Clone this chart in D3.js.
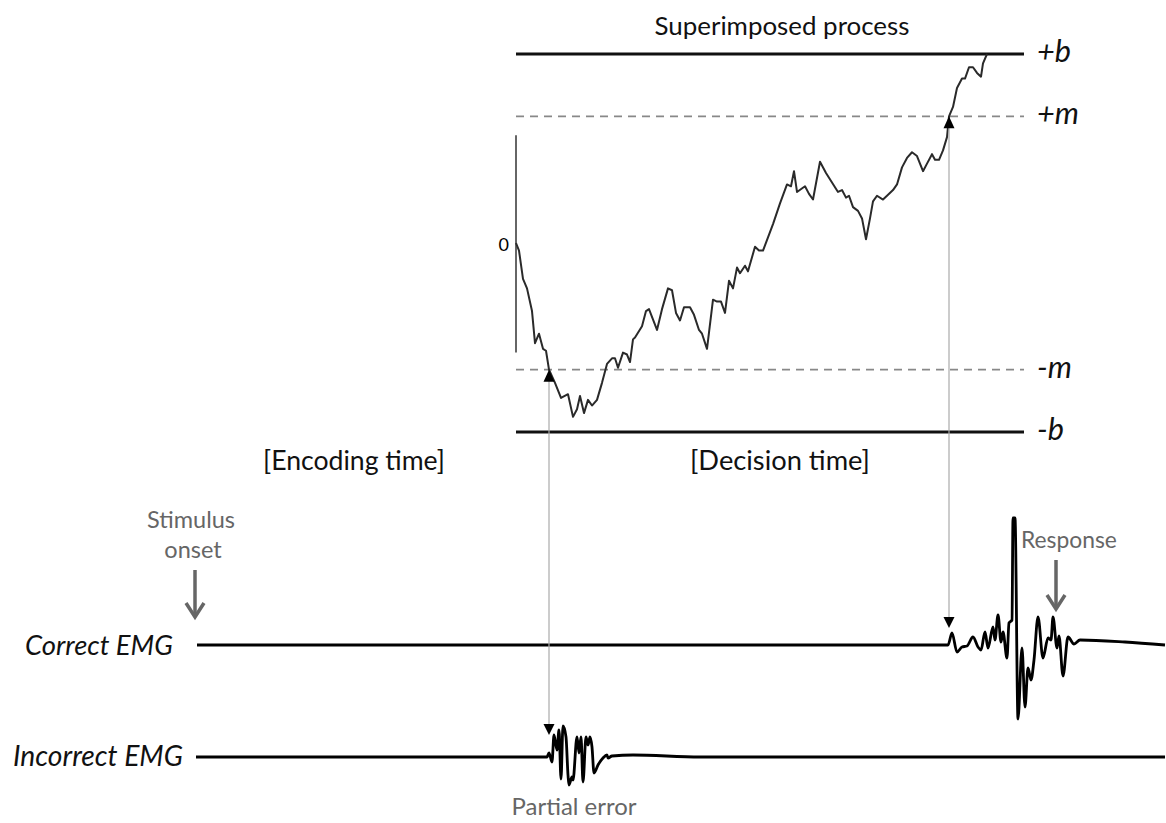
<!DOCTYPE html>
<html><head><meta charset="utf-8">
<script src="https://cdn.jsdelivr.net/npm/d3@7"></script>
<style>body{margin:0;background:#fff}svg{display:block}</style>
</head><body><svg id="c" width="1166" height="823"></svg>
<script>
// ---------- DATA ----------
// Superimposed (diffusion) process: decision time (ms from end of encoding) and evidence (units of b)
const walkTime = [0,3,7,11,16,19,23,27,30,33,39,45,52,57,61,64,68,72,76,81,86,91,96,99,102,107,111,114,117,119,126,130,133,141,146,152,156,160,164,168,174,178,183,186,191,197,201,205,209,213,217,221,224,229,232,239,243,247,252,257,264,271,275,278,281,289,293,297,304,310,316,322,326,330,333,337,342,346,350,354,357,361,367,371,377,381,386,391,396,401,407,411,416,419,423,427,431,433,437,441,446,449,453,457,461,465,467,471];
const walkEvidence = [0,-0.04,-0.19,-0.24,-0.36,-0.53,-0.48,-0.56,-0.57,-0.67,-0.74,-0.82,-0.80,-0.92,-0.88,-0.81,-0.90,-0.83,-0.86,-0.83,-0.74,-0.64,-0.61,-0.61,-0.66,-0.58,-0.59,-0.63,-0.51,-0.50,-0.44,-0.36,-0.35,-0.46,-0.35,-0.24,-0.25,-0.37,-0.41,-0.34,-0.34,-0.38,-0.46,-0.48,-0.56,-0.30,-0.31,-0.31,-0.37,-0.20,-0.24,-0.13,-0.16,-0.12,-0.15,-0.02,-0.04,-0.04,0.03,0.10,0.21,0.31,0.30,0.38,0.27,0.30,0.26,0.23,0.43,0.37,0.32,0.27,0.28,0.24,0.25,0.19,0.17,0.13,0.02,0.13,0.22,0.25,0.23,0.25,0.28,0.31,0.40,0.45,0.48,0.46,0.38,0.42,0.47,0.44,0.44,0.49,0.56,0.67,0.72,0.82,0.87,0.87,0.93,0.93,0.90,0.88,0.95,1.0];
const boundaryLevels = [1, -1];
const boundaryLabels = ["+b", "-b"];
const markerLevels = [0.67, -0.67];
const markerLabels = ["+m", "-m"];
const decisionWindow = [0, 508];
const axisSpan = [0.57, -0.58];
const startLabel = "0";
const encodingTime = 321;

// EMG traces: time (ms from stimulus onset) and amplitude (arbitrary units)
const correctTime = [2,753,757,762,767,772,778,783,786,790,793,798,800,803,806,808,812,814,817,818,820,823,827,830,833,836,839,843,848,853,856,858,862,864,868,873,879,885,930,970];
const correctAmp  = [0,0,0.12,-0.07,-0.02,-0.01,0.08,-0.02,-0.05,0.13,-0.03,0.18,0.05,0.30,0.03,0.13,-0.13,0.22,0.25,1.27,1.27,-0.74,-0.03,-0.62,-0.23,-0.35,-0.15,0.28,-0.13,0.07,0.05,0.28,-0.03,0.09,-0.31,0.08,0.01,0.05,0.03,0];
const incorrectTime = [1,352,354,357,359,362,364,366,368,371,373,374,377,378,382,384,386,388,391,393,395,397,399,403,408,412,413,417,438,505,970];
const incorrectAmp  = [0,0,0.04,-0.05,0.22,0.07,0.27,-0.22,0.31,0.20,-0.18,-0.28,-0.20,-0.23,0.20,0.04,0.20,-0.25,0.20,0.12,0.20,0.10,-0.16,-0.08,-0.01,0.02,-0.01,0.01,0.02,0,0];

// Threshold crossings (decision time) linking the process to EMG onsets
const crossTimes = [33, 433];
const crossLevels = [-0.67, 0.67];
const crossTargets = ["incorrect", "correct"];
const stimulusTime = 0;
const responseTime = 861;

// ---------- DRAWING ----------
const svg = d3.select("#c");
const FONT = "Lato, 'Open Sans', sans-serif";
const x = d3.scaleLinear().domain([0, 971]).range([195, 1166]);
const xd = t => x(encodingTime + t);
const y = d3.scaleLinear().domain([-1, 1]).range([432, 54]);
const yEmg = {
  correct: d3.scaleLinear().domain([-1, 1]).range([745, 545]),
  incorrect: d3.scaleLinear().domain([-1, 1]).range([857, 657])
};

function fit(sel, w) {
  const L = sel.node().getComputedTextLength();
  const fs = parseFloat(sel.attr("font-size"));
  sel.attr("font-size", fs * w / L);
  return fs * w / L;
}

// boundaries
svg.selectAll("line.bound").data(boundaryLevels).join("line")
  .attr("x1", xd(decisionWindow[0])).attr("x2", xd(decisionWindow[1]))
  .attr("y1", d => y(d)).attr("y2", d => y(d))
  .attr("stroke", "#111").attr("stroke-width", 3);
svg.selectAll("line.mark").data(markerLevels).join("line")
  .attr("x1", xd(decisionWindow[0])).attr("x2", xd(decisionWindow[1]))
  .attr("y1", d => y(d)).attr("y2", d => y(d))
  .attr("stroke", "#888").attr("stroke-width", 1.6).attr("stroke-dasharray", "8,6");

// vertical axis
svg.append("line").attr("x1", xd(0)).attr("x2", xd(0))
  .attr("y1", y(axisSpan[0])).attr("y2", y(axisSpan[1]))
  .attr("stroke", "#333").attr("stroke-width", 1.5);
svg.append("text").attr("x", xd(0) - 7).attr("y", y(0) + 8)
  .attr("text-anchor", "end").attr("font-family", FONT).attr("font-size", 18).attr("fill", "#000").text(startLabel);

// walk
const walk = walkTime.map((t, i) => [t, walkEvidence[i]]);
svg.append("path").datum(walk)
  .attr("d", d3.line().x(d => xd(d[0])).y(d => y(d[1])))
  .attr("fill", "none").attr("stroke", "#2a2a2a").attr("stroke-width", 2).attr("stroke-linejoin", "round");

// right labels
const lab = boundaryLabels.map((l, i) => [l, boundaryLevels[i]]).concat(markerLabels.map((l, i) => [l, markerLevels[i]]));
const rl = svg.selectAll("text.rl").data(lab).join("text")
  .attr("x", 1037).attr("y", d => y(d[1]) + 8)
  .attr("font-family", FONT).attr("font-style", "italic").attr("font-size", 26).attr("fill", "#111")
  .text(d => d[0]);
const fsR = fit(d3.select(rl.nodes()[0]), 34);
rl.attr("font-size", fsR);

// title and phase labels
const title = svg.append("text").attr("x", 782).attr("y", 35).attr("text-anchor", "middle")
  .attr("font-family", FONT).attr("font-size", 22).attr("fill", "#111").text("Superimposed process");
fit(title, 255);
const enc = svg.append("text").attr("x", 354).attr("y", 470).attr("text-anchor", "middle")
  .attr("font-family", FONT).attr("font-size", 22).attr("fill", "#111").text("[Encoding time]");
fit(enc, 182);
const dec = svg.append("text").attr("x", 780).attr("y", 470).attr("text-anchor", "middle")
  .attr("font-family", FONT).attr("font-size", 22).attr("fill", "#111").text("[Decision time]");
fit(dec, 180);

// EMG traces
const emgLine = sc => d3.line().x(d => x(d[0])).y(d => sc(d[1])).curve(d3.curveMonotoneX);
svg.append("path").datum(correctTime.map((t, i) => [t, correctAmp[i]]))
  .attr("d", emgLine(yEmg.correct)).attr("fill", "none").attr("stroke", "#000")
  .attr("stroke-width", 2.8).attr("stroke-linejoin", "round");
svg.append("path").datum(incorrectTime.map((t, i) => [t, incorrectAmp[i]]))
  .attr("d", emgLine(yEmg.incorrect)).attr("fill", "none").attr("stroke", "#000")
  .attr("stroke-width", 2.8).attr("stroke-linejoin", "round");

const cl = svg.append("text").attr("x", 25).attr("y", 655)
  .attr("font-family", FONT).attr("font-style", "italic").attr("font-size", 24).attr("fill", "#111").text("Correct EMG");
fit(cl, 148);
const il = svg.append("text").attr("x", 13).attr("y", 766)
  .attr("font-family", FONT).attr("font-style", "italic").attr("font-size", 24).attr("fill", "#111").text("Incorrect EMG");
fit(il, 170);

// crossing arrows
crossTimes.forEach((t, i) => {
  const cx = xd(t);
  const yTop = y(crossLevels[i]);
  const base = yEmg[crossTargets[i]](0);
  const tipDown = base - (crossTargets[i] === "incorrect" ? 22 : 17);
  svg.append("line").attr("x1", cx).attr("x2", cx).attr("y1", yTop + 10).attr("y2", tipDown - 10)
    .attr("stroke", "#aaa").attr("stroke-width", 1.2);
  svg.append("path").attr("d", `M${cx},${yTop}L${cx - 5.5},${yTop + 12}L${cx + 5.5},${yTop + 12}Z`).attr("fill", "#000");
  svg.append("path").attr("d", `M${cx},${tipDown}L${cx - 5.5},${tipDown - 11}L${cx + 5.5},${tipDown - 11}Z`).attr("fill", "#000");
});

// annotation arrows
function grayArrow(px, y1, y2) {
  svg.append("line").attr("x1", px).attr("x2", px).attr("y1", y1).attr("y2", y2 - 2)
    .attr("stroke", "#666").attr("stroke-width", 3.5);
  svg.append("path").attr("d", `M${px - 9},${y2 - 16}L${px},${y2 - 2}L${px + 9},${y2 - 16}`)
    .attr("fill", "none").attr("stroke", "#666").attr("stroke-width", 3.5);
}
grayArrow(x(stimulusTime), 570, 619);
grayArrow(x(responseTime), 560, 611);

const gray = "#666";
const s1 = svg.append("text").attr("x", x(stimulusTime) - 4).attr("y", 528).attr("text-anchor", "middle")
  .attr("font-family", FONT).attr("font-size", 20).attr("fill", gray).text("Stimulus");
fit(s1, 88);
const s2 = svg.append("text").attr("x", x(stimulusTime) - 2).attr("y", 558).attr("text-anchor", "middle")
  .attr("font-family", FONT).attr("font-size", 20).attr("fill", gray).text("onset");
s2.attr("font-size", s1.attr("font-size"));
const rs = svg.append("text").attr("x", 1021).attr("y", 548)
  .attr("font-family", FONT).attr("font-size", 20).attr("fill", gray).text("Response");
fit(rs, 96);
const pe = svg.append("text").attr("x", 574).attr("y", 815).attr("text-anchor", "middle")
  .attr("font-family", FONT).attr("font-size", 20).attr("fill", gray).text("Partial error");
fit(pe, 125);
</script></body></html>
